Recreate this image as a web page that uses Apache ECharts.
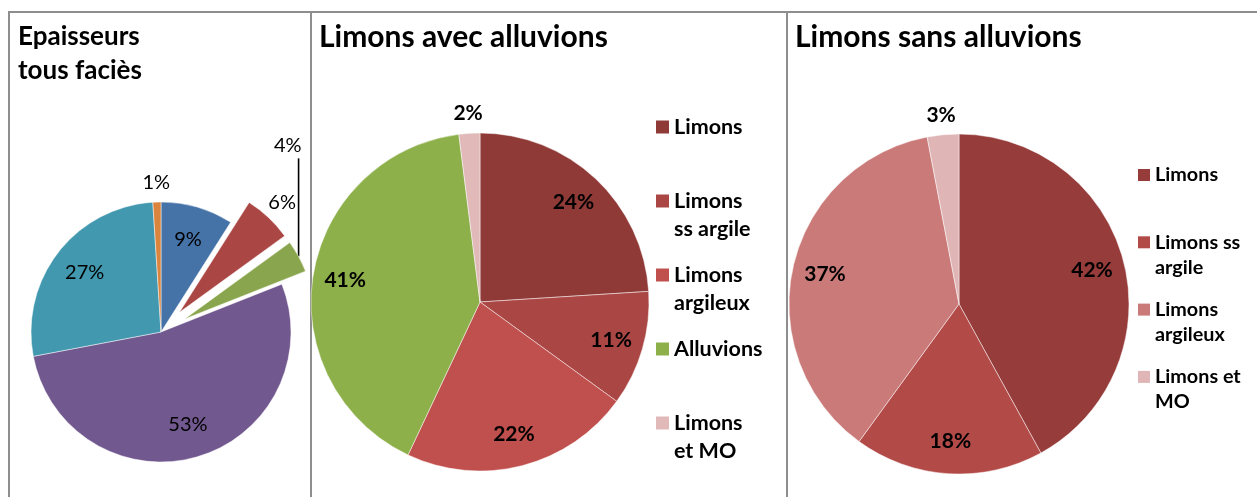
<!DOCTYPE html>
<html>
<head>
<meta charset="utf-8">
<script src="https://cdn.jsdelivr.net/npm/echarts@6/dist/echarts.min.js"></script>
<style>
  html, body { margin: 0; padding: 0; background: #ffffff; }
  #chart { width: 1257px; height: 497px; }
</style>
</head>
<body>
<div id="chart"></div>
<script>
// ---- Epaisseurs, tous faciès (no legend) ----
const faciesKeys = ['bleu', 'rouge', 'vert', 'violet', 'turquoise', 'orange'];
const faciesShares = [9, 6, 4, 53, 27, 1];
const faciesColors = ['#4572A7', '#AA4643', '#89A54E', '#71588F', '#4198AF', '#DB843D'];
const faciesDetached = ['rouge', 'vert'];
const faciesInnerLabels = ['bleu', 'violet', 'turquoise'];
const faciesOuterLabels = ['rouge', 'orange'];
const faciesLeaderLabels = ['vert'];

// ---- Limons avec alluvions ----
const avecNames = ['Limons', 'Limons\nss argile', 'Limons\nargileux', 'Alluvions', 'Limons\net MO'];
const avecShares = [24, 11, 22, 41, 2];
const avecColors = ['#8F3A37', '#AA4644', '#C0504D', '#8DB04B', '#E0B9B8'];
const avecOuterLabels = ['Limons\net MO'];

// ---- Limons sans alluvions ----
const sansNames = ['Limons', 'Limons ss\nargile', 'Limons\nargileux', 'Limons et\nMO'];
const sansShares = [42, 18, 37, 3];
const sansColors = ['#963C3B', '#B24A48', '#CA7B79', '#DFB6B5'];
const sansOuterLabels = ['Limons et\nMO'];

const FONT = 'Lato, "Open Sans", sans-serif';
const FRAME = '#8e8e8e';

// geometry of the three pies
const P1 = { center: [161, 332], r: 130, offset: 27 };
const P2 = { center: [480, 302], r: 169 };
const P3 = { center: [959, 304], r: 170 };

const clear = 'rgba(0,0,0,0)';

function mainPie(p, names, values, colors, detached) {
  return {
    type: 'pie', center: p.center, radius: p.r, silent: true,
    startAngle: 90, clockwise: true,
    selectedMode: detached ? 'multiple' : false,
    selectedOffset: p.offset || 0,
    itemStyle: { borderColor: 'rgba(255,255,255,0.6)', borderWidth: 0.8 },
    label: { show: false }, labelLine: { show: false },
    emphasis: { disabled: true },
    data: names.map((n, i) => ({
      name: n, value: values[i],
      selected: !!(detached && detached.includes(n)),
      itemStyle: { color: colors[i] }
    }))
  };
}

// transparent ring used only to carry the value labels at a chosen radius
function labelRing(p, inner, outer, names, values, shown, textStyle, detached) {
  return {
    type: 'pie', center: p.center, radius: [p.r * inner, p.r * outer], silent: true,
    startAngle: 90, clockwise: true,
    selectedMode: detached ? 'multiple' : false,
    selectedOffset: p.offset || 0,
    avoidLabelOverlap: false,
    itemStyle: { color: clear, borderWidth: 0 },
    labelLine: { show: false },
    emphasis: { disabled: true },
    label: Object.assign({ position: 'inside', formatter: '{c}%', color: '#000' }, textStyle),
    data: names.map((n, i) => ({
      name: n, value: values[i],
      selected: !!(detached && detached.includes(n)),
      label: { show: shown.includes(n) }
    }))
  };
}

const regularLabel = { fontFamily: FONT, fontSize: 20, fontWeight: 'normal' };
const boldLabel = { fontFamily: FONT, fontSize: 21, fontWeight: 'bold' };

// value label lifted straight up from the detached slice with a vertical leader
const LEADER = 98;
const leaderSeries = {
  type: 'pie', center: P1.center, radius: P1.r + P1.offset, silent: true,
  startAngle: 90, clockwise: true, avoidLabelOverlap: false,
  itemStyle: { color: clear, borderWidth: 0 },
  emphasis: { disabled: true },
  label: Object.assign({ position: 'outside', formatter: '{c}%', color: '#000', lineHeight: 24 }, regularLabel),
  labelLine: { show: true, length: 1, length2: 0, lineStyle: { color: '#000', width: 1.6 } },
  labelLayout: function (params) {
    const pts = params.labelLinePoints;
    if (!pts) return {};
    const s = pts[0];
    const topY = s[1] - LEADER;
    return {
      x: s[0] + 3, y: topY - 1, align: 'right', verticalAlign: 'bottom',
      labelLinePoints: [[s[0], s[1]], [s[0], topY], [s[0], topY]]
    };
  },
  data: faciesKeys.map((k, i) => ({
    name: k, value: faciesShares[i],
    label: { show: faciesLeaderLabels.includes(k) },
    labelLine: { show: faciesLeaderLabels.includes(k) }
  }))
};

// legend text is padded with blank lines so that the icon sits on the first line
// and every entry takes three lines of height
function legendText(name) {
  return name.indexOf('\n') >= 0 ? '\n' + name : '\n' + name + '\n';
}

function legend(left, top, names, colors, size, lh, icon, step) {
  return {
    orient: 'vertical', left: left, top: top, padding: 0,
    itemWidth: icon, itemHeight: icon, itemGap: step - 3 * lh,
    icon: 'rect', selectedMode: false,
    formatter: legendText,
    textStyle: { fontFamily: FONT, fontSize: size, fontWeight: 'bold', color: '#000', lineHeight: lh },
    data: names.map((n, i) => ({ name: n, itemStyle: { color: colors[i], borderWidth: 0 } }))
  };
}

const titleStyle = { fontFamily: FONT, fontWeight: 'bold', color: '#000' };

const option = {
  animation: false,
  backgroundColor: '#ffffff',
  title: [
    { text: 'Epaisseurs\ntous faciès', left: 18, top: 20, padding: 0,
      textStyle: Object.assign({ fontSize: 26, lineHeight: 34 }, titleStyle) },
    { text: 'Limons avec alluvions', left: 319, top: 19, padding: 0,
      textStyle: Object.assign({ fontSize: 30, lineHeight: 36 }, titleStyle) },
    { text: 'Limons sans alluvions', left: 795, top: 19, padding: 0,
      textStyle: Object.assign({ fontSize: 30, lineHeight: 36 }, titleStyle) }
  ],
  legend: [
    legend(656, 127 - 42, avecNames, avecColors, 21.5, 28, 13, 74),
    legend(1138, 175 - 37.5, sansNames, sansColors, 19.8, 25, 12, 67.3)
  ],
  graphic: [
    { type: 'polyline', silent: true, shape: { points: [[9, 497], [9, 12], [1257, 12]] },
      style: { stroke: FRAME, lineWidth: 2, fill: null } },
    { type: 'line', silent: true, shape: { x1: 311, y1: 12, x2: 311, y2: 497 },
      style: { stroke: FRAME, lineWidth: 2 } },
    { type: 'line', silent: true, shape: { x1: 787, y1: 12, x2: 787, y2: 497 },
      style: { stroke: FRAME, lineWidth: 2 } }
  ],
  series: [
    mainPie(P1, faciesKeys, faciesShares, faciesColors, faciesDetached),
    mainPie(P2, avecNames, avecShares, avecColors, null),
    mainPie(P3, sansNames, sansShares, sansColors, null),
    labelRing(P1, 0.44, 1.0, faciesKeys, faciesShares, faciesInnerLabels, regularLabel, null),
    labelRing(P1, 1.0, 1.26, faciesKeys, faciesShares, faciesOuterLabels, regularLabel, faciesDetached),
    leaderSeries,
    labelRing(P2, 0.58, 1.0, avecNames, avecShares, avecNames.filter(n => !avecOuterLabels.includes(n)), boldLabel, null),
    labelRing(P2, 1.0, 1.2, avecNames, avecShares, avecOuterLabels, boldLabel, null),
    labelRing(P3, 0.58, 1.0, sansNames, sansShares, sansNames.filter(n => !sansOuterLabels.includes(n)), boldLabel, null),
    labelRing(P3, 1.0, 1.2, sansNames, sansShares, sansOuterLabels, boldLabel, null)
  ]
};

const chart = echarts.init(document.getElementById('chart'), null, { renderer: 'canvas' });
chart.setOption(option);
</script>
</body>
</html>
